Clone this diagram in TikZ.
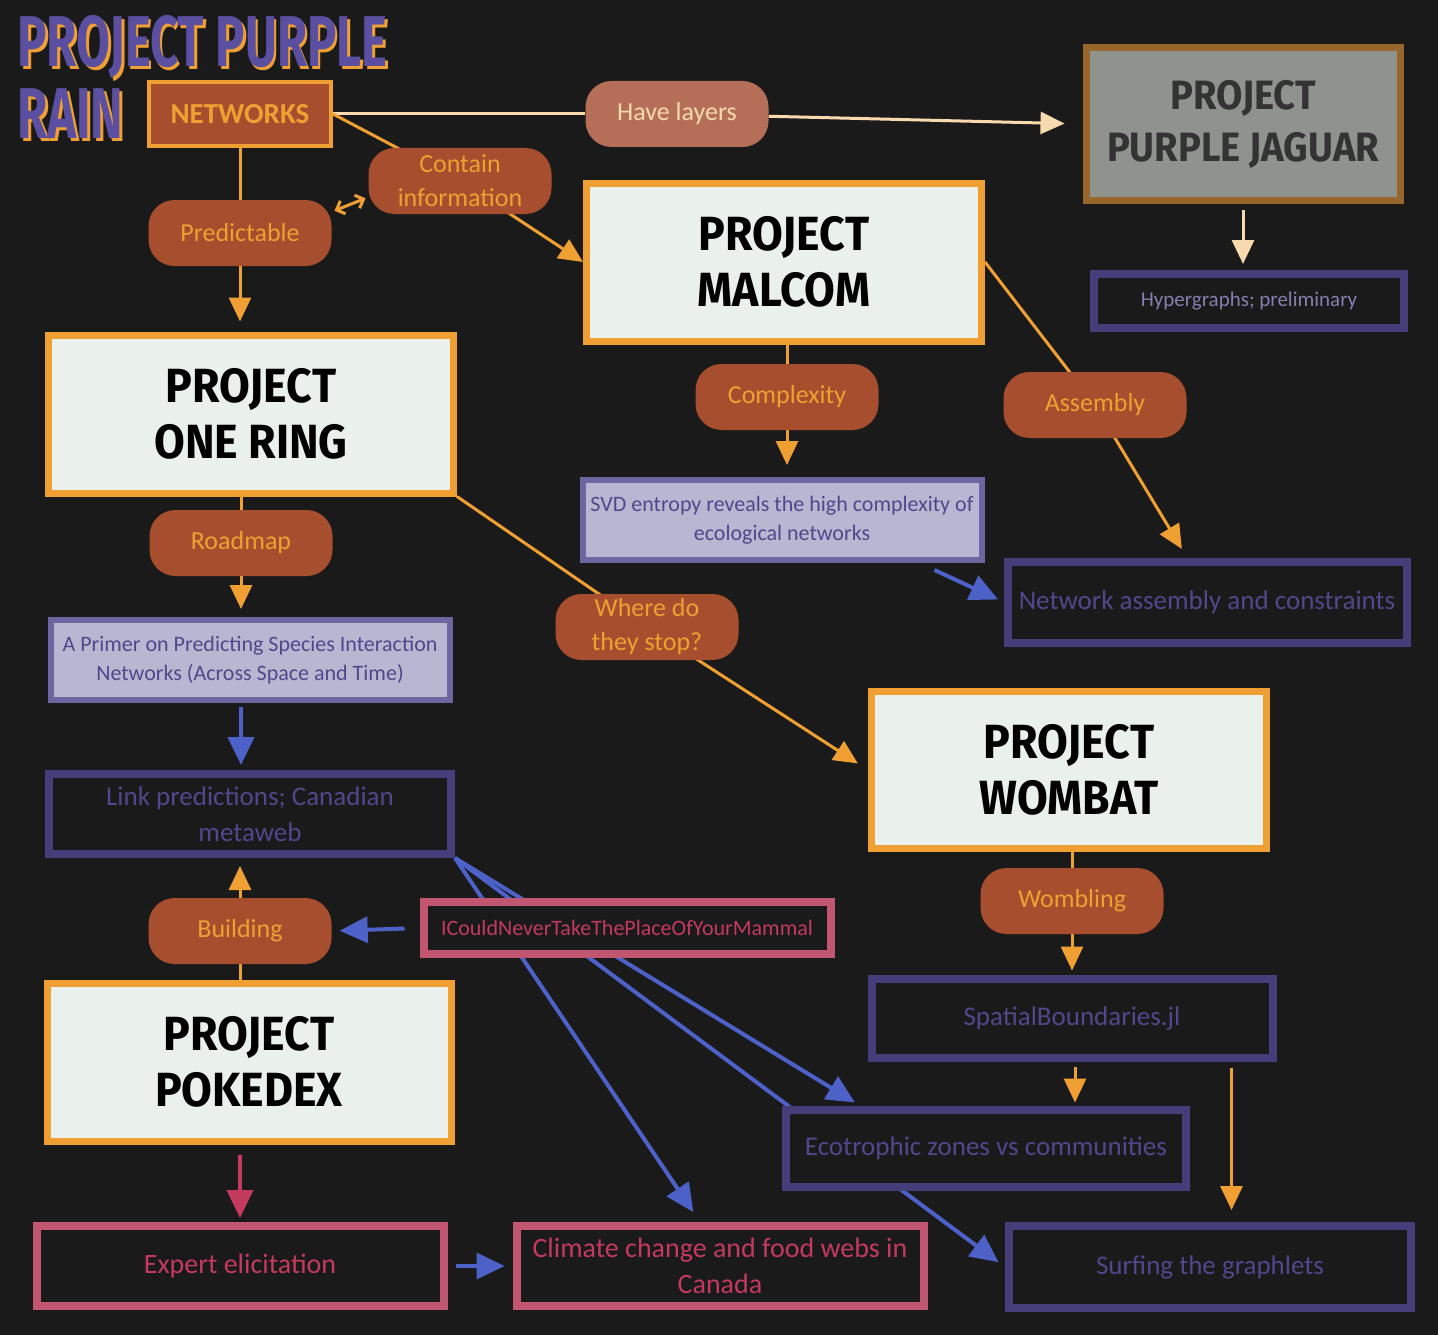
\documentclass[tikz,border=0pt]{standalone}
\usepackage{fontspec}
\setmainfont{Carlito}
\newfontfamily\projfont{Fira Sans}[FakeStretch=0.93]
\newfontfamily\titlefont{Fira Sans}[FakeStretch=0.68]
\usetikzlibrary{arrows.meta,positioning}

\definecolor{bg}{HTML}{1A1A1A}
\definecolor{amber}{HTML}{F0A033}
\definecolor{rust}{HTML}{A64E2D}
\definecolor{peach}{HTML}{F9D9AE}
\definecolor{clay}{HTML}{B56F59}
\definecolor{paper}{HTML}{EAF0EC}
\definecolor{slate}{HTML}{8F938E}
\definecolor{bronze}{HTML}{99662B}
\definecolor{ink}{HTML}{463D7B}
\definecolor{inktext}{HTML}{52478C}
\definecolor{lilac}{HTML}{B8B6D1}
\definecolor{lilacline}{HTML}{6D67A1}
\definecolor{cobalt}{HTML}{4C62C9}
\definecolor{rose}{HTML}{C0566F}
\definecolor{rosetext}{HTML}{C33A5E}
\definecolor{titlepurple}{HTML}{5A4FA0}

% title letters with an amber edge
\newcommand\edged[1]{\makebox[0pt][l]{\hspace{2.5pt}\raisebox{-3pt}{\textcolor{amber}{#1}}}#1}

\pgfdeclarelayer{back}
\pgfsetlayers{back,main}

\begin{document}
\begin{tikzpicture}[x=1pt, y=-1pt,
    pill/.style={rounded corners=26pt, fill=rust, text=amber, minimum width=183pt, minimum height=66pt, inner sep=2pt, align=center, font=\fontsize{26}{34}\selectfont},
    project/.style={draw=amber, line width=7pt, fill=paper, minimum width=400pt, minimum height=158pt, align=center, font=\projfont\bfseries\fontsize{48}{56}\selectfont},
    paperbox/.style={draw=lilacline, line width=6pt, fill=lilac, text=inktext, minimum width=399pt, minimum height=80pt, inner sep=2pt, align=center, font=\fontsize{22}{29}\selectfont},
    darkbox/.style={draw=ink, line width=8pt, fill=bg, text=inktext, minimum width=400pt, minimum height=80pt, inner sep=2pt, align=center, font=\fontsize{27}{36}\selectfont},
    pinkbox/.style={draw=rose, line width=8pt, fill=bg, text=rosetext, minimum width=407pt, minimum height=80pt, inner sep=2pt, align=center, font=\fontsize{28}{36}\selectfont},
    flow/.style={amber, line width=3pt},
    tip/.style={-{Triangle[length=24pt,width=22pt]}},
    link/.style={cobalt, line width=4pt, -{Triangle[length=28pt,width=26pt]}}
    ]
    \begin{pgfonlayer}{back}
      \fill[bg] (0,0) rectangle (1438,1335);
    \end{pgfonlayer}
    \useasboundingbox (0,0) rectangle (1438,1335);

    % title and the networks box
    \node[anchor=north west, align=left, text=titlepurple, font=\titlefont\bfseries\fontsize{72}{72}\selectfont] (title) at (14,12) {\edged{PROJECT PURPLE}\\\edged{RAIN}};
    \node[draw=amber, line width=4pt, fill=rust, text=amber, minimum width=182pt, minimum height=64pt, font=\bfseries\fontsize{29}{34}\selectfont] (net) at (240,114) {NETWORKS};
    \node[pill, fill=clay, text=peach] (layers) at (677,114) {Have layers};
    \node[pill] (contain) at (460,181) {Contain\\information};
    \node[pill] (predict) at (240,233) {Predictable};

    % projects
    \node[project, draw=bronze, fill=slate, text=black!80, minimum width=314pt, minimum height=153pt, font=\projfont\bfseries\fontsize{41}{52}\selectfont] (jaguar) at (1243,124) {PROJECT\\PURPLE JAGUAR};
    \node[project, minimum width=395pt] (malcom) at (784,262) {PROJECT\\MALCOM};
    \node[project, minimum width=405pt] (ring) at (251,414) {PROJECT\\ONE RING};
    \node[project, minimum width=395pt, minimum height=157pt] (wombat) at (1069,770) {PROJECT\\WOMBAT};
    \node[project, minimum width=404pt] (pokedex) at (249,1062) {PROJECT\\POKEDEX};

    % labels
    \node[pill] (complex) at (787,397) {Complexity};
    \node[pill] (assembly) at (1095,405) {Assembly};
    \node[pill] (stop) at (647,627) {Where do\\they stop?};
    \node[pill] (roadmap) at (241,543) {Roadmap};
    \node[pill] (building) at (240,931) {Building};
    \node[pill] (wombling) at (1072,901) {Wombling};

    % outputs
    \node[darkbox, minimum width=310pt, minimum height=54pt, text=inktext!70!white, font=\fontsize{21}{26}\selectfont] (hyper) at (1249,301) {Hypergraphs; preliminary};
    \node[paperbox] (svd) at (782,520) {SVD entropy reveals the high complexity of\\ecological networks};
    \node[darkbox, minimum width=399pt, minimum height=81pt] (nac) at (1207,602) {Network assembly and constraints};
    \node[paperbox] (primer) at (250,660) {A Primer on Predicting Species Interaction\\Networks (Across Space and Time)};
    \node[darkbox, minimum width=402pt] (metaweb) at (250,814) {Link predictions; Canadian\\metaweb};
    \node[pinkbox, minimum height=52pt, font=\fontsize{22}{30}\selectfont] (mammal) at (627,928) {ICouldNeverTakeThePlaceOfYourMammal};
    \node[pinkbox] (expert) at (240,1266) {Expert elicitation};
    \node[pinkbox] (climate) at (720,1266) {Climate change and food webs in\\Canada};
    \node[darkbox, minimum width=401pt, minimum height=79pt] (spatial) at (1072,1018) {SpatialBoundaries.jl};
    \node[darkbox, minimum height=77pt] (ecotrophic) at (986,1148) {Ecotrophic zones vs communities};
    \node[darkbox, minimum width=402pt, minimum height=82pt] (graphlets) at (1210,1267) {Surfing the graphlets};

    \begin{pgfonlayer}{back}
      % connectors
      \draw[peach, line width=3pt] (net.east) -- (layers);
      \draw[peach, line width=3pt, tip, shorten >=18pt] (layers) -- (jaguar.west);
      \draw[peach, line width=3pt, tip, shorten <=6pt, shorten >=6pt] (jaguar.south) -- (jaguar.south |- hyper.north);
      \draw[flow, tip] (net.east) -- (contain.center) -- (malcom.west);
      \draw[flow, {Straight Barb[length=7pt,width=14pt]}-{Straight Barb[length=7pt,width=14pt]}, shorten <=3pt, shorten >=3pt] (predict.13) -- (contain.190);
      \draw[flow] (net.south) -- (predict);
      \draw[flow, tip, shorten >=10pt] (predict) -- (predict |- ring.north);
      \draw[flow] (complex |- malcom.south) -- (complex);
      \draw[flow, tip, shorten >=12pt] (complex) -- (complex |- svd.north);
      \draw[flow, tip, shorten >=10pt] (malcom.east) -- (assembly.center) -- ([xshift=-20pt]nac.north);
      \draw[link, shorten >=6pt] ([xshift=-50pt,yshift=-7pt]svd.south east) -- (nac.west);
      \draw[flow, tip, shorten >=12pt] (ring.south east) -- (stop.center) -- (wombat.west);
      \draw[flow] (roadmap |- ring.south) -- (roadmap);
      \draw[flow, tip, shorten >=8pt] (roadmap) -- (roadmap |- primer.north);
      \draw[link, shorten <=4pt, shorten >=5pt] (roadmap |- primer.south) -- (roadmap |- metaweb.north);
      \draw[flow] (building |- pokedex.north) -- (building);
      \draw[flow, tip, shorten >=8pt] (building) -- (building |- metaweb.south);
      \draw[link, shorten <=15pt, shorten >=8pt] (mammal.west) -- (building.east);
      \draw[rosetext, line width=4pt, -{Triangle[length=28pt,width=26pt]}, shorten <=10pt, shorten >=4pt] (expert.north |- pokedex.south) -- (expert.north);
      \draw[link, shorten <=8pt, shorten >=8pt] (expert.east) -- (climate.west);
      \draw[link, shorten >=12pt] (metaweb.south east) -- ([xshift=-20pt]climate.north);
      \draw[link, shorten >=6pt] (metaweb.south east) -- ([xshift=-126pt]ecotrophic.north);
      \draw[link, shorten >=8pt] (metaweb.south east) -- (graphlets.west);
      \draw[flow] (wombling |- wombat.south) -- (wombling);
      \draw[flow, tip, shorten >=4pt] (wombling) -- (wombling |- spatial.north);
      \draw[flow, tip, shorten <=5pt, shorten >=3pt] ([xshift=3pt]spatial.south) -- ([xshift=3pt]spatial.south |- ecotrophic.north);
      \draw[flow, tip, shorten <=6pt, shorten >=12pt] ([xshift=-45pt]spatial.south east) -- ([xshift=-45pt]spatial.south east |- graphlets.north);
    \end{pgfonlayer}
\end{tikzpicture}
\end{document}
